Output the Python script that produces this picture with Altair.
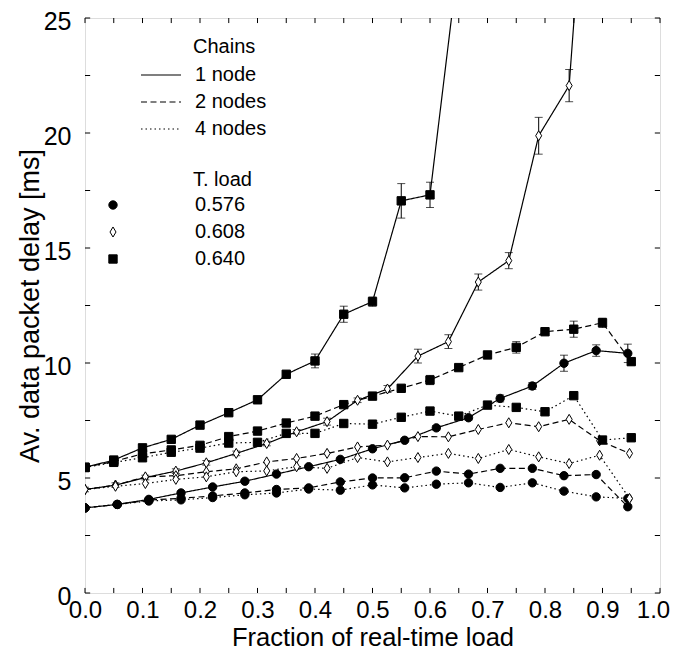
import altair as alt
import pandas as pd

# ---------------- data ----------------
# x positions (fraction of real-time load) for each T. load
x_576 = [0.000, 0.056, 0.111, 0.167, 0.222, 0.278, 0.333, 0.389, 0.444, 0.500,
         0.556, 0.611, 0.667, 0.722, 0.778, 0.833, 0.889, 0.944]
x_608 = [0.000, 0.053, 0.105, 0.158, 0.211, 0.263, 0.316, 0.368, 0.421, 0.474,
         0.526, 0.579, 0.632, 0.684, 0.737, 0.789, 0.842, 0.895, 0.947]
x_640 = [0.00, 0.05, 0.10, 0.15, 0.20, 0.25, 0.30, 0.35, 0.40, 0.45,
         0.50, 0.55, 0.60, 0.65, 0.70, 0.75, 0.80, 0.85, 0.90, 0.95]

# 1 node
c1 = [3.70, 3.85, 4.07, 4.35, 4.61, 4.86, 5.17, 5.49, 5.81, 6.27,
      6.64, 7.18, 7.62, 8.46, 9.00, 9.99, 10.54, 10.42]
d1 = [4.50, 4.69, 5.02, 5.30, 5.66, 6.07, 6.50, 7.01, 7.45, 8.38,
      8.87, 10.30, 10.93, 13.52, 14.45, 19.88, 22.06, 40.0]
s1 = [5.46, 5.78, 6.31, 6.68, 7.30, 7.84, 8.40, 9.51, 10.09, 12.12,
      12.67, 17.05, 17.31, 27.6]
# 2 nodes
c2 = [3.70, 3.85, 4.04, 4.12, 4.22, 4.35, 4.50, 4.57, 4.83, 5.00,
      5.01, 5.30, 5.17, 5.42, 5.42, 5.10, 5.15, 3.75]
d2 = [4.50, 4.69, 5.05, 5.10, 5.27, 5.40, 5.70, 5.85, 6.07, 6.35,
      6.43, 6.80, 6.79, 7.11, 7.40, 7.23, 7.55, 6.62, 6.07]
s2 = [5.46, 5.72, 6.05, 6.22, 6.42, 6.80, 7.04, 7.39, 7.69, 8.19,
      8.56, 8.90, 9.26, 9.80, 10.35, 10.68, 11.36, 11.47, 11.75, 10.06]
# 4 nodes
c4 = [3.70, 3.85, 4.00, 4.05, 4.15, 4.27, 4.35, 4.52, 4.47, 4.70,
      4.57, 4.73, 4.79, 4.59, 4.79, 4.43, 4.18, 4.11]
d4 = [4.50, 4.64, 4.76, 4.94, 5.05, 5.27, 5.31, 5.49, 5.42, 5.89,
      5.70, 5.89, 6.07, 5.85, 6.24, 5.92, 5.63, 5.99, 4.11]
s4 = [5.46, 5.68, 5.88, 6.12, 6.30, 6.52, 6.55, 6.94, 6.94, 7.37,
      7.34, 7.64, 7.91, 7.69, 8.17, 8.07, 7.88, 8.58, 6.65, 6.75]

# half-widths of the error bars that are visible
e_c1 = [0.05, 0.05, 0.05, 0.05, 0.05, 0.05, 0.05, 0.05, 0.05, 0.05,
        0.05, 0.10, 0.10, 0.15, 0.15, 0.35, 0.25, 0.40]
e_d1 = [0.10, 0.10, 0.10, 0.10, 0.10, 0.10, 0.10, 0.10, 0.15, 0.10,
        0.15, 0.30, 0.30, 0.35, 0.35, 0.80, 0.70, 0.00]
e_s1 = [0.10, 0.10, 0.15, 0.12, 0.10, 0.10, 0.15, 0.10, 0.30, 0.35,
        0.20, 0.75, 0.55, 0.00]
e_s2 = [0.10, 0.10, 0.10, 0.10, 0.10, 0.10, 0.10, 0.10, 0.10, 0.10,
        0.10, 0.10, 0.20, 0.10, 0.10, 0.25, 0.10, 0.35, 0.20, 0.15]

chains = ["1 node", "2 nodes", "4 nodes"]
loads = ["0.576", "0.608", "0.640"]

x_ticks = [0.00, 0.05, 0.10, 0.15, 0.20, 0.25, 0.30, 0.35, 0.40, 0.45, 0.50,
           0.55, 0.60, 0.65, 0.70, 0.75, 0.80, 0.85, 0.90, 0.95, 1.00]
y_ticks = [0, 2.5, 5, 7.5, 10, 12.5, 15, 17.5, 20, 22.5, 25]
x_labels = [0.0, 0.1, 0.2, 0.3, 0.4, 0.5, 0.6, 0.7, 0.8, 0.9, 1.0]
y_labels = [0, 5, 10, 15, 20, 25]

# ---------------- tables ----------------
rows = []
def add(xs, ys, errs, chain, load):
    for i, y in enumerate(ys):
        rows.append({"x": xs[i], "y": y, "err": errs[i] if errs else 0.0,
                     "chain": chain, "load": load, "series": chain + "|" + load})

add(x_576, c1, e_c1, "1 node", "0.576")
add(x_608, d1, e_d1, "1 node", "0.608")
add(x_640, s1, e_s1, "1 node", "0.640")
add(x_576, c2, None, "2 nodes", "0.576")
add(x_608, d2, None, "2 nodes", "0.608")
add(x_640, s2, e_s2, "2 nodes", "0.640")
add(x_576, c4, None, "4 nodes", "0.576")
add(x_608, d4, None, "4 nodes", "0.608")
add(x_640, s4, None, "4 nodes", "0.640")

df = pd.DataFrame(rows)
df["lo"] = df["y"] - df["err"]
df["hi"] = df["y"] + df["err"]
err_df = df[df["err"] > 0]

FONT = "Liberation Sans"
xs = alt.Scale(domain=[0, 1], nice=False, zero=False)
ys = alt.Scale(domain=[0, 25], nice=False, zero=False)

x_enc = alt.X("x:Q", scale=xs, title="Fraction of real-time load",
              axis=alt.Axis(values=x_labels, format=".1f", ticks=False, domain=False,
                            grid=False, labelFontSize=24, titleFontSize=25.5,
                            labelPadding=5, titlePadding=3, labelColor="black",
                            titleColor="black", titleFontWeight="normal",
                            labelFlush=False, labelOverlap=False,
                            labelOffset={"condition": {"test": "datum.value >= 1",
                                                       "value": -7},
                                         "value": 0},
                            labelFont=FONT, titleFont=FONT))
y_enc = alt.Y("y:Q", scale=ys, title="Av. data packet delay [ms]",
              axis=alt.Axis(values=y_labels, ticks=False, domain=False, grid=False,
                            labelFontSize=25, titleFontSize=27, labelPadding=14,
                            titlePadding=-1, labelColor="black", titleColor="black",
                            titleFontWeight="normal", labelFlush=False, labelOffset=3,
                            labelOverlap=False, labelFont=FONT, titleFont=FONT))

LFS = 20
dash_legend = alt.Legend(title="Chains", orient="none", legendX=108, legendY=19,
                         symbolType="M-2,0L2,0", symbolSize=400, symbolStrokeWidth=1.2,
                         symbolStrokeColor="black", symbolFillColor="transparent",
                         labelFontSize=LFS, titleFontSize=LFS,
                         titleFontWeight="normal", labelFont=FONT, titleFont=FONT,
                         labelColor="black", titleColor="black", labelOffset=23,
                         rowPadding=6, titlePadding=7, padding=0,
                         symbolOffset=-43)

lines = alt.Chart(df).mark_line(color="black", strokeWidth=1.2, clip=True).encode(
    x=x_enc, y=y_enc,
    strokeDash=alt.StrokeDash("chain:N",
                              scale=alt.Scale(domain=chains,
                                              range=[[1, 0], [6, 3.5], [1.5, 3]]),
                              legend=dash_legend),
    detail="series:N",
    order="x:Q",
)

errs = alt.Chart(err_df).mark_rule(color="black", strokeWidth=1, clip=True).encode(
    x="x:Q", y="lo:Q", y2="hi:Q")
caps_lo = alt.Chart(err_df).mark_tick(color="black", orient="horizontal", size=8,
                                      thickness=1, clip=True).encode(x="x:Q", y="lo:Q")
caps_hi = alt.Chart(err_df).mark_tick(color="black", orient="horizontal", size=8,
                                      thickness=1, clip=True).encode(x="x:Q", y="hi:Q")

shape_legend = alt.Legend(title="T. load", orient="none", legendX=108, legendY=152,
                          symbolSize=70, symbolStrokeColor="black",
                          symbolStrokeWidth=1, labelFontSize=LFS, titleFontSize=LFS,
                          titleFontWeight="normal", labelFont=FONT, titleFont=FONT,
                          labelColor="black", titleColor="black", labelOffset=72,
                          rowPadding=7, titlePadding=5, padding=0,
                          symbolOffset=-90)

diamond = "M0,-1.2L0.72,0L0,1.2L-0.72,0Z"
points = alt.Chart(df).mark_point(filled=False, color="black", stroke="black",
                                  strokeWidth=1, size=70, opacity=1, clip=True).encode(
    x="x:Q", y="y:Q",
    shape=alt.Shape("load:N", scale=alt.Scale(domain=loads,
                                              range=["circle", diamond, "square"]),
                    legend=shape_legend),
    fill=alt.Fill("load:N", scale=alt.Scale(domain=loads,
                                            range=["black", "white", "black"]),
                  legend=shape_legend),
    stroke=alt.Stroke("load:N", scale=alt.Scale(domain=loads,
                                                range=["black", "black", "black"]),
                      legend=shape_legend),
)

tick_b = alt.Chart(pd.DataFrame({"t": x_ticks})).mark_rule(color="black", strokeWidth=1).encode(
    x="t:Q", y=alt.datum(0), y2=alt.datum(0.22))
tick_t = alt.Chart(pd.DataFrame({"t": x_ticks})).mark_rule(color="black", strokeWidth=1).encode(
    x="t:Q", y=alt.datum(25), y2=alt.datum(24.78))
tick_l = alt.Chart(pd.DataFrame({"t": y_ticks})).mark_rule(color="black", strokeWidth=1).encode(
    y="t:Q", x=alt.datum(0), x2=alt.datum(0.009))
tick_r = alt.Chart(pd.DataFrame({"t": y_ticks})).mark_rule(color="black", strokeWidth=1).encode(
    y="t:Q", x=alt.datum(1), x2=alt.datum(0.991))

chart = alt.layer(lines, errs, caps_lo, caps_hi, points, tick_b, tick_t, tick_l, tick_r).resolve_scale(
    strokeDash="independent"
).properties(
    width=575, height=575,
    autosize=alt.AutoSizeParams(type="none"),
    padding={"left": 77, "top": 10, "right": 10, "bottom": 58},
).configure_view(stroke="black", strokeWidth=1.5).configure(background="white")

chart.save("out.html", embed_options={"renderer": "svg", "actions": False})
